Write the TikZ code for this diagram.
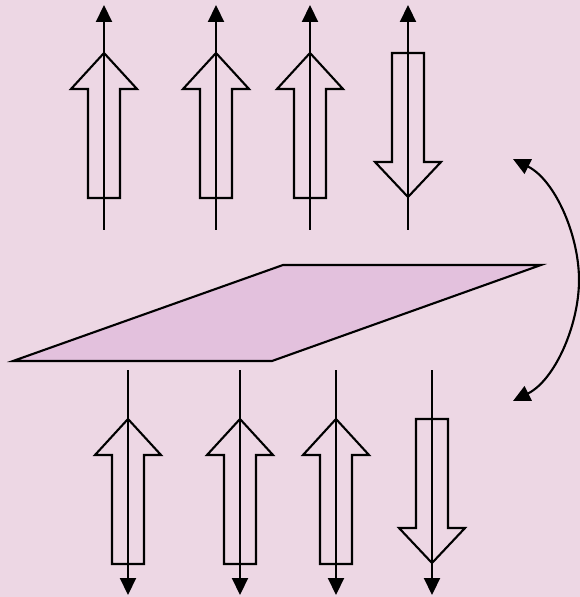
\documentclass[tikz,border=0pt]{standalone}
\usetikzlibrary{arrows.meta}
\definecolor{bg}{HTML}{EDD7E4}
\definecolor{plane}{HTML}{E3C1DD}
\tikzset{
  line/.style={line width=1.2pt, black},
  tip/.tip={Triangle[length=0.34cm,width=0.32cm]},
  tipline/.style={line, -tip},
  bothline/.style={line, tip-tip},
  fatarrow/.style={line, line join=miter},
  upfat/.pic={\draw[fatarrow] (0,0) -- (33,36) -- (16,36) -- (16,145) -- (-16,145) -- (-16,36) -- (-33,36) -- cycle;},
  downfat/.pic={\draw[fatarrow] (-16,0) -- (16,0) -- (16,109) -- (33,109) -- (0,144) -- (-33,109) -- (-16,109) -- cycle;}
}
\begin{document}
\begin{tikzpicture}[x=0.02cm,y=-0.02cm]
\fill[bg] (0,0) rectangle (580,597);
\useasboundingbox (0,0) rectangle (580,597);
% top row
\foreach \c/\k in {104/1,216/2,310/3}{
  \coordinate (tb\k) at (\c,230);
  \coordinate (tt\k) at (\c,5);
  \pic at (\c,53) {upfat};
  \draw[tipline] (tb\k) -- (tt\k);
}
\coordinate (tb4) at (408,230);
\coordinate (tt4) at (408,5);
\pic at (408,53) {downfat};
\draw[tipline] (tb4) -- (tt4);
% plane
\coordinate (p1) at (13,361);
\coordinate (p2) at (283,265);
\coordinate (p3) at (541,265);
\coordinate (p4) at (272,361);
\filldraw[line, fill=plane, line join=miter] (p1) -- (p2) -- (p3) -- (p4) -- cycle;
% bottom row
\foreach \c/\k in {128/1,240/2,336/3}{
  \coordinate (bt\k) at (\c,370);
  \coordinate (bb\k) at (\c,595);
  \pic at (\c,419) {upfat};
  \draw[tipline] (bt\k) -- (bb\k);
}
\coordinate (bt4) at (432,370);
\coordinate (bb4) at (432,595);
\pic at (432,419) {downfat};
\draw[tipline] (bt4) -- (bb4);
% rotation arrow
\coordinate (r1) at (513,159);
\coordinate (r2) at (513,401);
\draw[bothline] (r1) .. controls (555,180) and (579,235) .. (579,280) .. controls (579,325) and (555,380) .. (r2);
\end{tikzpicture}
\end{document}
